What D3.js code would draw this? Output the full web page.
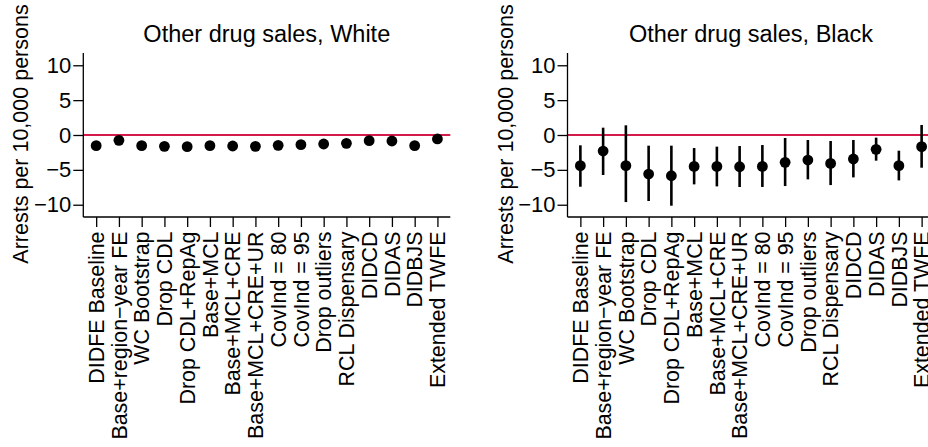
<!DOCTYPE html>
<html>
<head>
<meta charset="utf-8">
<script src="https://cdn.jsdelivr.net/npm/d3@7"></script>
<style>
  html, body { margin: 0; padding: 0; background: #fff; }
  svg { display: block; font-family: "Liberation Sans", Arial, Helvetica, sans-serif; }
</style>
</head>
<body>
<svg id="chart" width="928" height="447"></svg>
<script>
// ---------- data ----------
const categories = [
  "DIDFE Baseline", "Base+region\u2212year FE", "WC Bootstrap", "Drop CDL",
  "Drop CDL+RepAg", "Base+MCL", "Base+MCL+CRE", "Base+MCL+CRE+UR",
  "CovInd = 80", "CovInd = 95", "Drop outliers", "RCL Dispensary",
  "DIDCD", "DIDAS", "DIDBJS", "Extended TWFE"
];
const yTicks = [-10, -5, 0, 5, 10];

const whiteEst = [-1.53, -0.77, -1.53, -1.63, -1.67, -1.53, -1.58, -1.63, -1.48, -1.39, -1.29, -1.20, -0.81, -0.86, -1.53, -0.57];
const whiteLo  = [-2.0, -1.2, -2.0, -2.1, -2.1, -2.0, -2.0, -2.1, -1.9, -1.8, -1.7, -1.6, -1.2, -1.2, -2.0, -1.0];
const whiteHi  = [-1.1, -0.35, -1.1, -1.2, -1.25, -1.1, -1.15, -1.2, -1.05, -0.95, -0.9, -0.8, -0.4, -0.5, -1.1, -0.15];

const blackEst = [-4.40, -2.30, -4.40, -5.60, -5.84, -4.50, -4.50, -4.55, -4.50, -3.92, -3.59, -4.07, -3.44, -2.06, -4.40, -1.67];
const blackLo  = [-7.42, -5.74, -9.62, -9.47, -10.14, -7.08, -7.37, -7.46, -7.46, -7.32, -6.36, -7.18, -6.08, -3.68, -6.51, -4.69];
const blackHi  = [-1.48, 1.05, 1.39, -1.53, -1.53, -1.87, -1.67, -1.58, -1.44, -0.43, -0.72, -0.86, -0.72, -0.38, -2.25, 1.44];

const panels = [
  { title: "Other drug sales, White", est: whiteEst, lo: whiteLo, hi: whiteHi, left: 83.3 },
  { title: "Other drug sales, Black", est: blackEst, lo: blackLo, hi: blackHi, left: 567.5 }
];

// ---------- layout ----------
const plotW = 367, plotTop = 53, plotBottom = 217;
const fontSize = 22, labelSize = 21.4;
const svg = d3.select("#chart");
const refColor = "#d41a4a";

panels.forEach(p => {
  const g = svg.append("g");
  const x = d3.scalePoint().domain(categories).range([p.left, p.left + plotW]).padding(0.566);
  const y = d3.scaleLinear().domain([-11.76, 11.76]).range([plotBottom, plotTop]);

  // zero reference line
  g.append("line")
    .attr("x1", p.left).attr("x2", p.left + plotW)
    .attr("y1", y(0)).attr("y2", y(0))
    .attr("stroke", refColor).attr("stroke-width", 2);

  // y axis
  const ya = g.append("g")
    .attr("transform", `translate(${p.left},0)`)
    .call(d3.axisLeft(y).tickValues(yTicks).tickSize(10).tickPadding(2)
      .tickFormat(d => d < 0 ? "\u2212" + Math.abs(d) : String(d)));
  ya.select(".domain").attr("d", `M0,${plotTop}V${plotBottom}`).attr("stroke-width", 1.3);
  ya.selectAll(".tick line").attr("stroke-width", 1.3);
  ya.selectAll(".tick text").attr("font-size", fontSize).attr("font-family", null).attr("fill", "#000");

  // x axis
  const xa = g.append("g")
    .attr("transform", `translate(0,${plotBottom})`)
    .call(d3.axisBottom(x).tickSize(10).tickFormat(""));
  xa.select(".domain").attr("d", `M${p.left},0H${p.left + plotW}`).attr("stroke-width", 1.3);
  xa.selectAll(".tick line").attr("stroke-width", 1.3);

  // x labels rotated
  g.selectAll("text.xl").data(categories).enter().append("text")
    .attr("class", "xl")
    .attr("transform", d => `translate(${x(d)},231.5) rotate(-90)`)
    .attr("text-anchor", "end")
    .attr("dy", "0.36em")
    .attr("font-size", labelSize)
    .attr("fill", "#000")
    .text(d => d);

  // error bars
  g.selectAll("line.ci").data(categories).enter().append("line")
    .attr("class", "ci")
    .attr("x1", d => x(d)).attr("x2", d => x(d))
    .attr("y1", (d, i) => y(p.lo[i])).attr("y2", (d, i) => y(p.hi[i]))
    .attr("stroke", "#000").attr("stroke-width", 2.6);

  // points
  g.selectAll("circle.pt").data(categories).enter().append("circle")
    .attr("class", "pt")
    .attr("cx", d => x(d)).attr("cy", (d, i) => y(p.est[i]))
    .attr("r", 5.4).attr("fill", "#000");

  // title
  g.append("text")
    .attr("x", p.left + plotW / 2).attr("y", 41.5)
    .attr("text-anchor", "middle")
    .attr("font-size", 23.5)
    .attr("fill", "#000")
    .text(p.title);

  // y-axis title
  g.append("text")
    .attr("transform", `translate(${p.left - 55},134) rotate(-90)`)
    .attr("text-anchor", "middle")
    .attr("font-size", 21.5)
    .attr("fill", "#000")
    .text("Arrests per 10,000 persons");
});
</script>
</body>
</html>
